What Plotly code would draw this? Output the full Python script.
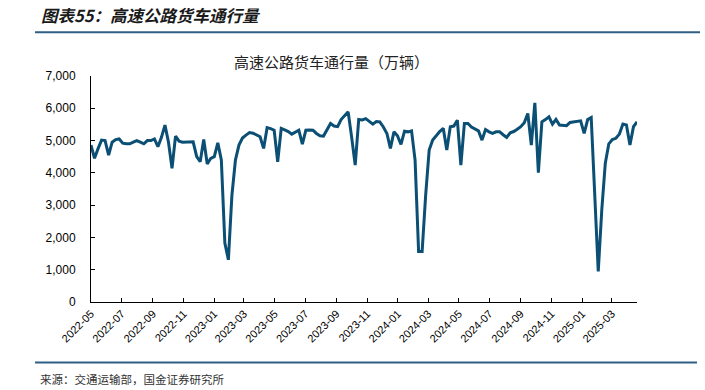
import pandas as pd
import plotly.graph_objects as go

# Weekly truck traffic on expressways (10k vehicles), weeks starting 2022-05-01
start_date = "2022-05-01"
values = [
    4860, 4450, 4750, 5014, 5000, 4550, 4950, 5030, 5050, 4920,
    4900, 4900, 4950, 5000, 4950, 4900, 5000, 5000, 5050, 4810,
    5100, 5478, 4950, 4140, 5137, 4980, 4950, 4950, 4950, 4960,
    4500, 4345, 5035, 4273, 4450, 4500, 4930, 4400, 1822, 1307,
    3300, 4395, 4860, 5080, 5170, 5250, 5230, 5168, 5120, 4757,
    5400, 5370, 5320, 4345, 5375, 5330, 5280, 5200, 5260, 5320,
    4890, 5320, 5330, 5320, 5220, 5150, 5140, 5350, 5530, 5450,
    5430, 5653, 5786, 5890, 5100, 4240, 5653, 5640, 5680, 5580,
    5510, 5590, 5580, 5420, 5220, 4757, 5270, 5150, 4880, 5290,
    5270, 5300, 4395, 1563, 1563, 3300, 4705, 5014, 5150, 5280,
    5380, 4705, 5430, 5450, 5630, 4240, 5530, 5530, 5420, 5350,
    5300, 5014, 5340, 5270, 5220, 5270, 5270, 5180, 5097, 5240,
    5280, 5350, 5430, 5550, 5838, 4860, 6167, 4005, 5580, 5650,
    5735, 5510, 5653, 5480, 5480, 5460, 5560, 5580, 5600, 5610,
    5220, 5650, 5715, 3370, 945, 2850, 4300, 4900, 5030, 5070,
    5200, 5510, 5480, 4860, 5430, 5580,
]
dates = pd.date_range(start_date, periods=len(values), freq="7D")

tick_labels = [
    "2022-05", "2022-07", "2022-09", "2022-11", "2023-01", "2023-03",
    "2023-05", "2023-07", "2023-09", "2023-11", "2024-01", "2024-03",
    "2024-05", "2024-07", "2024-09", "2024-11", "2025-01", "2025-03",
]
tick_vals = [lbl + "-01" for lbl in tick_labels]

header_text = "图表55：高速公路货车通行量"
chart_title = "高速公路货车通行量（万辆）"
source_text = "来源：交通运输部，国金证券研究所"

LINE_COLOR = "#0B4F75"
RULE_COLOR = "#2F5F85"
CJK = "Noto Sans CJK SC"
LATIN = "Liberation Sans, Arial, sans-serif"

fig = go.Figure()
fig.add_trace(go.Scatter(
    x=dates, y=values, mode="lines",
    line=dict(color=LINE_COLOR, width=3),
    showlegend=False,
))

W, H = 705, 390
ml, mr, mt, mb = 91, 68, 76, 88
pw, ph = W - ml - mr, H - mt - mb

def px(x):
    return (x - ml) / pw

def py(y):
    return (H - mb - y) / ph

fig.update_layout(
    width=W, height=H,
    margin=dict(l=ml, r=mr, t=mt, b=mb, pad=0, autoexpand=False),
    paper_bgcolor="white", plot_bgcolor="white",
    font=dict(family=LATIN, size=11, color="#000000"),
    xaxis=dict(
        type="date",
        range=["2022-05-01", "2025-04-20"],
        tickvals=tick_vals, ticktext=tick_labels,
        tickangle=-45,
        ticks="inside", ticklen=4, tickcolor="#000000",
        showline=True, linecolor="#000000", linewidth=1,
        showgrid=False, zeroline=False,
        tickfont=dict(family=LATIN, size=11, color="#000000"),
    ),
    yaxis=dict(
        range=[0, 7000], dtick=1000, tickformat=",d",
        ticks="inside", ticklen=4, tickcolor="#000000",
        ticklabelstandoff=12,
        showline=True, linecolor="#000000", linewidth=1,
        showgrid=False, zeroline=False,
        tickfont=dict(family=LATIN, size=12, color="#000000"),
    ),
    shapes=[
        dict(type="line", xref="paper", yref="paper",
             x0=px(35), x1=px(700), y0=py(32.3), y1=py(32.3),
             line=dict(color=RULE_COLOR, width=2)),
        dict(type="line", xref="paper", yref="paper",
             x0=px(35), x1=px(697), y0=py(362.5), y1=py(362.5),
             line=dict(color=RULE_COLOR, width=2)),
    ],
    annotations=[
        dict(text="<b><i>" + header_text + "</i></b>", xref="paper", yref="paper",
             x=px(39), y=py(15), xanchor="left", yanchor="middle", showarrow=False,
             font=dict(family=CJK, size=16.5, color="#1a1a1a")),
        dict(text=chart_title, xref="paper", yref="paper",
             x=px(331), y=py(62), xanchor="center", yanchor="middle", showarrow=False,
             font=dict(family=CJK, size=15, color="#222222")),
        dict(text=source_text, xref="paper", yref="paper",
             x=px(38), y=py(379), xanchor="left", yanchor="middle", showarrow=False,
             font=dict(family=CJK, size=11.5, color="#333333")),
    ],
)

fig.write_html(
    "out.html",
    config={"displayModeBar": False},
    post_script="document.body.style.margin='0';document.body.style.overflow='hidden';",
)
